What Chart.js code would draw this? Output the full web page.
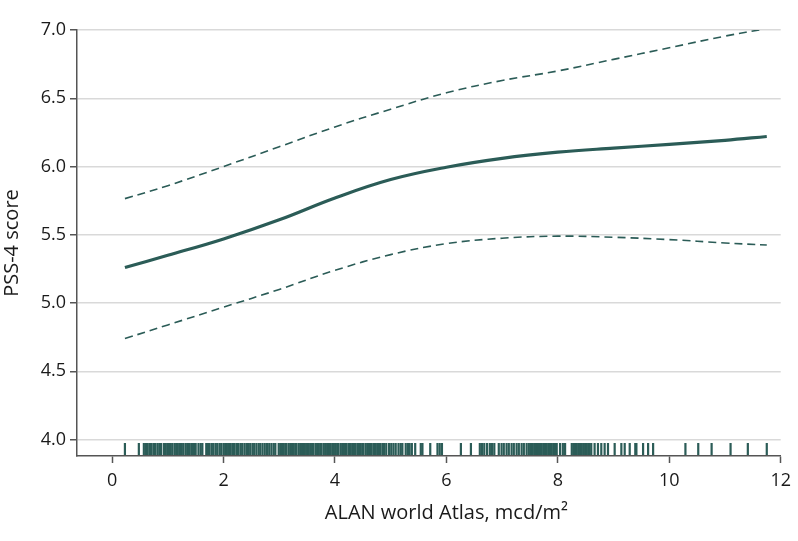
<!DOCTYPE html>
<html>
<head>
<meta charset="utf-8">
<script src="https://cdn.jsdelivr.net/npm/chart.js@4"></script>
<style>
  html, body { margin: 0; padding: 0; background: #fff; }
  #wrap { width: 798px; height: 541px; }
</style>
</head>
<body>
<div id="wrap"><canvas id="pssChart"></canvas></div>
<script>
Chart.defaults.font.family = "'Open Sans', 'Noto Sans', sans-serif"
Chart.defaults.color = '#1a1a1a'

// ALAN (mcd/m2) along the fitted curve
const alanX = [0.23, 1, 2, 3, 4, 5, 6, 7, 8, 9, 10, 11, 11.75]
const pssFit = [5.26, 5.35, 5.47, 5.61, 5.77, 5.905, 5.995, 6.06, 6.105, 6.135, 6.162, 6.192, 6.22]
const ciUpper = [5.765, 5.86, 6.0, 6.145, 6.29, 6.42, 6.54, 6.63, 6.70, 6.785, 6.87, 6.955, 7.01]
const ciLower = [4.74, 4.84, 4.97, 5.10, 5.24, 5.355, 5.435, 5.475, 5.49, 5.482, 5.465, 5.44, 5.425]

// observed ALAN values (rug)
const rugX = [
  0.23, 0.48,
  0.57, 0.61, 0.64, 0.68, 0.71, 0.75, 0.78, 0.82, 0.86, 0.88,
  0.93, 0.96, 0.99, 1.02, 1.05, 1.08, 1.12, 1.15, 1.18, 1.22, 1.25, 1.28, 1.32, 1.35, 1.38, 1.42, 1.45, 1.48, 1.50,
  1.55, 1.59, 1.62,
  1.69, 1.72, 1.75, 1.79, 1.82, 1.86, 1.89, 1.93, 1.96, 2.00,
  2.03, 2.06, 2.10, 2.13, 2.17, 2.20, 2.24, 2.27, 2.31, 2.34, 2.38, 2.42, 2.45,
  2.48, 2.52, 2.55, 2.59, 2.63, 2.66, 2.70, 2.74, 2.78, 2.82, 2.86, 2.90, 2.93, 2.99,
  3.02, 3.05, 3.08, 3.11, 3.13, 3.17, 3.20, 3.23, 3.26, 3.29, 3.31, 3.35, 3.38, 3.41, 3.44, 3.46, 3.50,
  3.53, 3.56, 3.59, 3.61, 3.65, 3.68, 3.71, 3.74, 3.76, 3.80, 3.83, 3.86, 3.89, 3.91, 3.95, 3.98,
  4.01, 4.04, 4.06, 4.10, 4.13, 4.16, 4.19, 4.21, 4.25, 4.28, 4.31, 4.34, 4.36, 4.40, 4.43, 4.46,
  4.49, 4.51, 4.55, 4.58, 4.61, 4.64, 4.66, 4.70, 4.73, 4.76, 4.79, 4.81, 4.85, 4.88,
  4.92, 4.97, 5.01, 5.05, 5.09, 5.14, 5.18, 5.21, 5.27, 5.31, 5.34, 5.38, 5.44, 5.54, 5.57, 5.71,
  5.84, 5.88, 5.92,
  6.26, 6.44, 6.60, 6.64, 6.68, 6.73, 6.78, 6.82, 6.86, 6.94, 6.99, 7.03, 7.08, 7.12, 7.17, 7.21,
  7.26, 7.30, 7.35, 7.39, 7.44, 7.48,
  7.52, 7.55, 7.58, 7.61, 7.63, 7.66, 7.69, 7.71, 7.74, 7.77, 7.80, 7.83, 7.86, 7.89, 7.92, 7.95, 7.98,
  8.04, 8.09, 8.13,
  8.25, 8.28, 8.31, 8.34, 8.37, 8.40, 8.43, 8.46, 8.49, 8.52, 8.55, 8.57,
  8.60, 8.66, 8.72, 8.78, 8.84, 8.90,
  9.02, 9.14, 9.20, 9.29, 9.39, 9.41, 9.53, 9.62, 9.71,
  10.29, 10.52, 10.76, 11.10, 11.41, 11.75
]

const yTicks = [4.0, 4.5, 5.0, 5.5, 6.0, 6.5, 7.0]
const xTicks = [0, 2, 4, 6, 8, 10, 12]

const teal = '#2b5c57'
const rugLevel = 3.932

const toPoints = (xs, ys) => xs.map((x, i) => ({x: x, y: ys[i]}))

const xTitlePlugin = {
    id: 'xTitle',
    afterDraw(chart) {
        const xs = chart.scales.x
        const ctx = chart.ctx
        ctx.save()
        ctx.font = "20px 'Open Sans', 'Noto Sans', sans-serif"
        ctx.fillStyle = '#1a1a1a'
        ctx.textAlign = 'center'
        ctx.textBaseline = 'alphabetic'
        ctx.fillText('ALAN world Atlas, mcd/m²', xs.getPixelForValue(6), xs.top + 63)
        ctx.restore()
    }
}

const data = {
    datasets: [
        {
            label: 'Rug',
            data: rugX.map(x => ({x: x, y: rugLevel})),
            showLine: false,
            pointStyle: 'line',
            rotation: 90,
            radius: 6,
            hoverRadius: 6,
            borderWidth: 2.2,
            borderColor: teal,
            backgroundColor: teal
        },
        {
            label: 'Upper CI',
            data: toPoints(alanX, ciUpper),
            showLine: true,
            borderColor: teal,
            borderWidth: 1.6,
            borderDash: [8, 5],
            pointRadius: 0,
            tension: 0.4
        },
        {
            label: 'Lower CI',
            data: toPoints(alanX, ciLower),
            showLine: true,
            borderColor: teal,
            borderWidth: 1.6,
            borderDash: [8, 5],
            pointRadius: 0,
            tension: 0.4
        },
        {
            label: 'PSS-4',
            data: toPoints(alanX, pssFit),
            showLine: true,
            borderColor: teal,
            borderWidth: 3.2,
            pointRadius: 0,
            tension: 0.4
        }
    ]
}

const options = {
    responsive: true,
    maintainAspectRatio: false,
    animation: false,
    layout: {padding: {top: 30, right: 13, left: 0, bottom: 0}},
    plugins: {
        legend: {display: false},
        tooltip: {enabled: false}
    },
    scales: {
        x: {
            type: 'linear',
            min: -0.63,
            max: 12,
            afterFit: s => { s.height = 85 },
            afterBuildTicks: s => { s.ticks = xTicks.map(v => ({value: v})) },
            border: {color: '#555', width: 1.5},
            grid: {drawOnChartArea: false, drawTicks: true, tickLength: 7, tickColor: '#555', tickWidth: 1.5},
            ticks: {font: {size: 18}, padding: 7, color: '#1a1a1a'}
        },
        y: {
            type: 'linear',
            min: 3.88,
            max: 7.0,
            afterFit: s => { s.width = 77 },
            afterBuildTicks: s => { s.ticks = yTicks.map(v => ({value: v})) },
            border: {color: '#555', width: 1.5},
            grid: {color: '#d9d9d9', lineWidth: 1.5, tickLength: 7, tickColor: '#555', tickWidth: 1.5},
            ticks: {
                font: {size: 18},
                padding: 4,
                color: '#1a1a1a',
                callback: v => v.toFixed(1)
            },
            title: {display: true, text: 'PSS-4 score', font: {size: 20}, padding: {top: 0, bottom: 0}, color: '#1a1a1a'}
        }
    }
}

new Chart('pssChart', {type: 'scatter', data, options, plugins: [xTitlePlugin]})
</script>
</body>
</html>
